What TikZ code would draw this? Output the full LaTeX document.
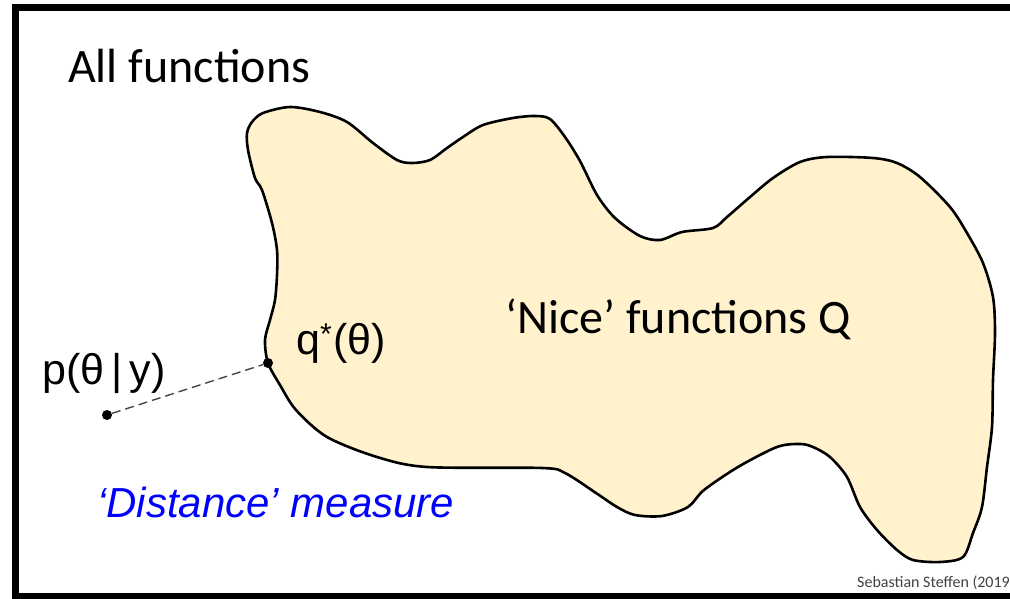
\documentclass[tikz,border=0pt]{standalone}
\usepackage{fontspec}
\setmainfont{Carlito}
\newfontfamily\arialfont{Liberation Sans}
\definecolor{blobfill}{RGB}{255,242,204}
\definecolor{dashgray}{RGB}{70,70,70}
\definecolor{creditgray}{RGB}{64,64,64}
\definecolor{measureblue}{RGB}{0,0,255}
\begin{document}
\begin{tikzpicture}[x=1pt,y=-1pt,
  dotnode/.style={circle,fill=black,inner sep=0pt,minimum size=10pt},
  framebox/.style={line width=7pt},
  blobshape/.style={fill=blobfill,draw=black,line width=2.6pt,line join=round},
  linkdash/.style={dashgray,line width=1.4pt,dash pattern=on 9pt off 5pt},
  calibrilabel/.style={font=\fontsize{48}{58}\selectfont,inner sep=0pt,anchor=base west},
  ariallabel/.style={font=\arialfont\fontsize{43}{50}\selectfont,inner sep=0pt,anchor=base west},
  creditlabel/.style={font=\fontsize{16}{19}\selectfont,text=creditgray,inner sep=0pt,anchor=base west},
]
\path[use as bounding box] (0,0) rectangle (1010,599);
\begin{scope}
\clip (0,0) rectangle (1010,599);
% frame
\draw[framebox] (15,8) rectangle (1040,596);
% blob of nice functions
\draw[blobshape] plot[smooth cycle, tension=0.5] coordinates {
 (252,122) (263,113) (290,107) (320,112) (347,122) (373,143) (397,160) (412,163)
 (430,160) (447,148) (463,137) (483,125) (513,118) (535,116) (550,119)
 (565,137) (580,161) (597,195) (615,218) (640,236) (660,240) (682,232) (713,228) (727,217)
 (750,197) (773,178) (800,162) (827,157) (873,158) (897,163) (920,177) (950,207)
 (967,233) (983,263) (993,297) (995,333) (993,380) (992,427) (987,467) (982,507)
 (973,533) (963,557) (940,562) (913,560) (897,550) (877,530) (860,507) (847,477)
 (830,457) (813,447) (800,444) (777,447) (738,467) (704,490) (688,507) (662,516)
 (635,515) (617,507) (596,493) (565,473) (542,468) (427,467) (377,457) (327,437)
 (296,410) (280,385) (268,363) (265,340) (270,320) (275,300) (277,275) (277,250)
 (272,223) (262,190) (255,178) (248,150) (247,133)};
% points
\node[dotnode] (p) at (107,415) {};
\node[dotnode] (q) at (268,363) {};
\draw[linkdash] (p) -- (q);
% labels
\node[calibrilabel] (allf) at (68,83) {All functions};
\node[calibrilabel] (nice) at (505,333) {‘Nice’ functions Q};
\node[ariallabel] (plabel) at (42,384) {p(θ\,|\,y)};
\node[ariallabel] (qlabel) at (296,354) {q\textsuperscript{*}\kern1pt(θ)};
\node[ariallabel,text=measureblue,font=\arialfont\itshape\fontsize{42}{50}\selectfont] (dist) at (97,517) {‘Distance’ measure};
\node[creditlabel] (credit) at (857,587) {Sebastian Steffen (2019};
\end{scope}
\end{tikzpicture}
\end{document}
